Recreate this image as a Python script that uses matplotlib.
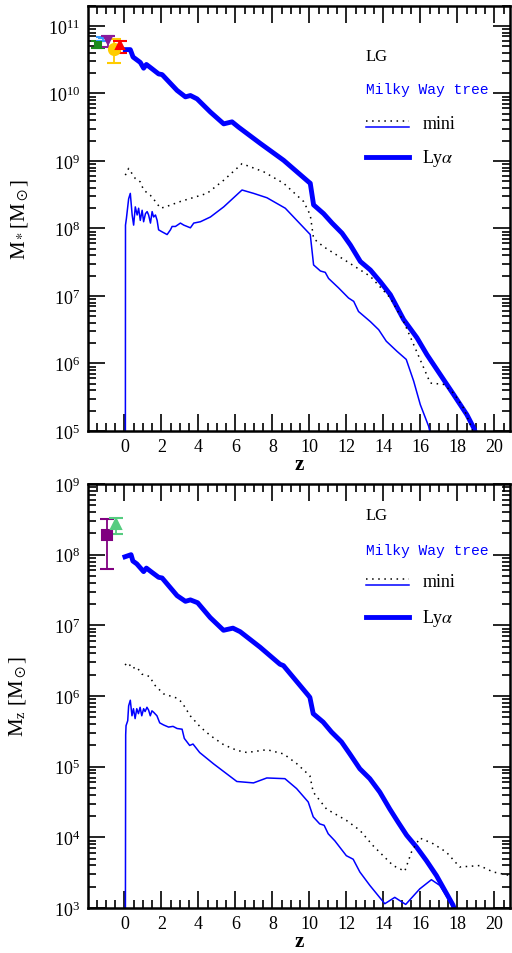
import numpy as np
import matplotlib
matplotlib.use('Agg')
from matplotlib import pyplot as plt
from matplotlib.ticker import MultipleLocator, FixedLocator, NullFormatter

plt.rcParams['font.family'] = ['Liberation Serif', 'DejaVu Serif']
plt.rcParams['mathtext.fontset'] = 'stix'

BLUE = '#0000ff'

# ---- stellar mass, log10(M*/Msun) ----
z_lya_star = [0.05, 0.32, 0.47, 0.86, 1.04, 1.19, 1.50, 1.85, 2.04, 2.85, 3.30, 3.57,
              3.93, 4.65, 5.37, 5.82, 6.18, 7.35, 8.61, 9.96, 10.05, 10.23, 10.77,
              11.23, 11.77, 12.22, 12.76, 13.30, 13.84, 14.38, 15.10, 15.82, 16.36,
              17.08, 17.80, 18.52, 18.88, 18.98]
m_lya_star = [10.65, 10.65, 10.54, 10.46, 10.375, 10.43, 10.365, 10.29, 10.28, 10.045,
              9.95, 9.97, 9.92, 9.725, 9.55, 9.58, 9.50, 9.26, 9.01, 8.69, 8.67, 8.35,
              8.22, 8.08, 7.93, 7.755, 7.51, 7.385, 7.21, 7.02, 6.65, 6.38, 6.13, 5.835,
              5.54, 5.24, 5.05, 4.98]

z_dot_star = [0.05, 0.23, 0.42, 0.59, 0.86, 1.04, 1.41, 1.68, 1.95, 2.22, 3.03, 4.47,
              5.37, 6.36, 7.53, 8.61, 9.69, 10.05, 10.23, 10.77, 12.04, 13.30, 14.38,
              15.10, 15.64, 16.54, 17.26, 17.80, 18.34, 18.70, 18.85]
m_dot_star = [8.79, 8.89, 8.81, 8.74, 8.69, 8.57, 8.49, 8.40, 8.30, 8.32, 8.40, 8.52,
              8.715, 8.96, 8.84, 8.67, 8.40, 8.20, 7.85, 7.73, 7.51, 7.29, 6.97, 6.62,
              6.28, 5.71, 5.69, 5.56, 5.34, 5.10, 4.98]

z_mini_star = [0.05, 0.06, 0.11, 0.23, 0.32, 0.42, 0.50, 0.59, 0.69, 0.77, 0.86, 0.96,
               1.04, 1.14, 1.23, 1.31, 1.41, 1.50, 1.58, 1.68, 1.77, 1.85, 2.04, 2.31,
               2.49, 2.58, 2.76, 3.03, 3.21, 3.39, 3.57, 3.75, 4.11, 4.65, 5.37, 6.36,
               6.99, 7.71, 8.70, 10.05, 10.23, 10.60, 10.86, 11.04, 11.58, 12.12,
               12.40, 12.66, 13.30, 13.75, 14.16, 14.74, 15.24, 15.64, 16.00, 16.45,
               16.55]
m_mini_star = [3.0, 8.05, 8.15, 8.44, 8.52, 8.20, 8.05, 8.32, 8.20, 8.30, 8.12, 8.27,
               8.10, 8.22, 8.25, 8.20, 8.08, 8.25, 8.17, 8.20, 8.12, 7.98, 7.95, 7.91,
               7.98, 8.03, 8.03, 8.08, 8.05, 8.03, 8.01, 8.08, 8.10, 8.17, 8.32, 8.57,
               8.52, 8.455, 8.30, 7.91, 7.46, 7.37, 7.35, 7.26, 7.12, 6.97, 6.92, 6.77,
               6.62, 6.50, 6.33, 6.18, 6.06, 5.74, 5.39, 5.07, 4.95]

# Local Group stellar mass estimates
obs_star_z = [-1.43, -1.13, -0.86, -0.55, -0.23]
obs_star_m = [5.25e10, 6.6e10, 6.3e10, 4.6e10, 5.2e10]
obs_star_lo = [4.7e10, 5.9e10, 4.9e10, 2.8e10, 4.0e10]
obs_star_hi = [5.9e10, 6.9e10, 7.2e10, 6.5e10, 5.9e10]
obs_star_col = ['#1a8a1a', '#3399ff', '#8a1a9a', '#ffcc00', '#ff0000']
obs_star_mk = ['s', '_', 'v', 'o', '^']

# ---- metal mass, log10(MZ/Msun) ----
z_lya_met = [0.03, 0.36, 0.46, 0.67, 1.04, 1.19, 1.49, 1.85, 2.04, 2.85, 3.30, 3.57,
             3.96, 4.64, 5.36, 5.87, 6.26, 7.34, 8.41, 8.60, 9.94, 10.03, 10.21, 10.75,
             11.20, 11.74, 12.19, 12.73, 13.27, 13.81, 14.35, 14.81, 15.26, 15.80,
             16.33, 16.87, 17.32, 17.77, 17.85]
m_lya_met = [7.97, 8.00, 7.91, 7.87, 7.76, 7.81, 7.75, 7.68, 7.67, 7.42, 7.34, 7.36,
             7.32, 7.11, 6.93, 6.96, 6.91, 6.69, 6.45, 6.43, 6.01, 5.98, 5.75, 5.63,
             5.49, 5.35, 5.18, 4.97, 4.83, 4.64, 4.40, 4.21, 4.03, 3.86, 3.67, 3.46,
             3.25, 3.04, 2.98]

z_dot_met = [0.03, 0.22, 0.40, 0.67, 0.94, 1.22, 1.40, 1.58, 1.85, 2.12, 2.84, 3.11,
             3.56, 4.11, 4.65, 5.37, 6.09, 6.63, 7.71, 8.61, 9.33, 10.03, 10.21, 10.93,
             12.00, 12.73, 13.45, 14.53, 15.16, 15.52, 15.97, 16.69, 17.41, 18.13,
             19.20, 19.93, 20.83]
m_dot_met = [6.44, 6.47, 6.39, 6.41, 6.31, 6.29, 6.27, 6.17, 6.10, 6.03, 5.97, 5.91,
             5.72, 5.56, 5.44, 5.31, 5.23, 5.20, 5.24, 5.18, 5.04, 4.87, 4.64, 4.40,
             4.24, 4.10, 3.88, 3.60, 3.52, 3.79, 3.99, 3.91, 3.79, 3.58, 3.60, 3.51,
             3.46]

z_mini_met = [0.05, 0.07, 0.09, 0.18, 0.23, 0.32, 0.41, 0.49, 0.58, 0.67, 0.76, 0.85,
              0.94, 1.04, 1.12, 1.22, 1.31, 1.40, 1.49, 1.58, 1.76, 1.91, 2.12, 2.39,
              2.63, 2.85, 3.12, 3.24, 3.53, 3.71, 4.07, 4.82, 6.08, 6.98, 7.70, 8.68,
              9.31, 9.94, 10.21, 10.56, 10.80, 11.02, 11.38, 12.00, 12.37, 12.73,
              13.27, 14.08, 14.62, 15.21, 15.97, 16.60, 17.05, 17.50, 17.78, 17.85]
m_mini_met = [2.0, 5.45, 5.58, 5.65, 5.86, 5.94, 5.72, 5.82, 5.68, 5.82, 5.75, 5.84,
              5.72, 5.82, 5.78, 5.84, 5.80, 5.72, 5.79, 5.77, 5.72, 5.62, 5.59, 5.56,
              5.57, 5.54, 5.53, 5.40, 5.30, 5.32, 5.20, 5.04, 4.79, 4.77, 4.84, 4.83,
              4.69, 4.50, 4.29, 4.19, 4.17, 4.05, 3.95, 3.74, 3.69, 3.51, 3.32, 3.06,
              3.15, 3.05, 3.27, 3.40, 3.32, 3.13, 3.00, 2.95]

obs_met_z = [-0.95, -0.45]
obs_met_m = [1.9e8, 2.7e8]
obs_met_lo = [6.3e7, 1.95e8]
obs_met_hi = [3.2e8, 3.3e8]
obs_met_col = ['#800080', '#55cc80']
obs_met_mk = ['s', '^']


def style_axes(ax, dec_lo, dec_hi, ytop):
    ax.set_yscale('log')
    ax.set_xlim(-1.95, 20.85)
    ax.set_ylim(10.0 ** dec_lo, ytop)
    ax.xaxis.set_major_locator(MultipleLocator(2))
    ax.xaxis.set_minor_locator(MultipleLocator(0.5))
    decades = np.arange(dec_lo, dec_hi + 1)
    ax.yaxis.set_major_locator(FixedLocator(10.0 ** decades))
    minors = [k * 10.0 ** d for d in decades for k in range(2, 10)
              if k * 10.0 ** d <= ytop]
    ax.yaxis.set_minor_locator(FixedLocator(minors))
    ax.yaxis.set_minor_formatter(NullFormatter())
    ax.tick_params(which='both', direction='in', top=True, right=True, width=1.2)
    ax.tick_params(which='major', length=12, labelsize=13, pad=6)
    ax.tick_params(which='minor', length=6)
    ax.tick_params(axis='x', which='major', pad=5)
    for s in ax.spines.values():
        s.set_linewidth(1.8)
    ax.set_xlabel('z', fontsize=15, fontweight='bold', labelpad=-1)


def legend_block(ax, y_lg, y_mw, y_mini, y_lya):
    x0, x1, xt = 0.658, 0.761, 0.792
    ax.text(x0, y_lg, 'LG', transform=ax.transAxes, fontsize=12, va='center')
    ax.text(x0, y_mw, 'Milky Way tree', transform=ax.transAxes, fontsize=10.5,
            va='center', color=BLUE, family='Liberation Mono')
    ax.plot([x0, x1], [y_mini + 0.008, y_mini + 0.008], transform=ax.transAxes,
            color='black', lw=1.1, ls=(0, (1, 3)))
    ax.plot([x0, x1], [y_mini - 0.007, y_mini - 0.007], transform=ax.transAxes,
            color=BLUE, lw=1.1)
    ax.text(xt, y_mini, 'mini', transform=ax.transAxes, fontsize=13, va='center')
    ax.plot([x0, x1], [y_lya, y_lya], transform=ax.transAxes, color=BLUE, lw=3.5)
    ax.text(xt, y_lya, r'Ly$\alpha$', transform=ax.transAxes, fontsize=13, va='center')


def draw_obs(ax, zs, ms, lo, hi, cols, mks, sizes):
    for z, m, l, h, c, mk, sz in zip(zs, ms, lo, hi, cols, mks, sizes):
        ax.errorbar(z, m, yerr=[[m - l], [h - m]], fmt=mk, color=c, ms=sz,
                    capsize=5, elinewidth=1.3, capthick=1.3, mew=1.5)


fig = plt.figure(figsize=(5.12, 9.54), dpi=100)

# stellar mass
ax1 = fig.add_axes([0.1725, 0.5472, 0.8236, 0.4458])
ax1.plot(z_lya_star, 10 ** np.array(m_lya_star), color=BLUE, lw=3.5)
ax1.plot(z_dot_star, 10 ** np.array(m_dot_star), color='black', lw=1.1, ls=(0, (1, 3)))
ax1.plot(z_mini_star, 10 ** np.array(m_mini_star), color=BLUE, lw=1.1)
draw_obs(ax1, obs_star_z, obs_star_m, obs_star_lo, obs_star_hi, obs_star_col,
         obs_star_mk, [5, 7, 6, 8, 6])
style_axes(ax1, 5, 11, 2e11)
ax1.set_ylabel(r'M$_*$[M$_\odot$]', fontsize=15, labelpad=12)
legend_block(ax1, 0.882, 0.804, 0.722, 0.644)

# metal mass
ax2 = fig.add_axes([0.1725, 0.0472, 0.8236, 0.4444])
ax2.plot(z_lya_met, 10 ** np.array(m_lya_met), color=BLUE, lw=3.5)
ax2.plot(z_dot_met, 10 ** np.array(m_dot_met), color='black', lw=1.1, ls=(0, (1, 3)))
ax2.plot(z_mini_met, 10 ** np.array(m_mini_met), color=BLUE, lw=1.1)
draw_obs(ax2, obs_met_z, obs_met_m, obs_met_lo, obs_met_hi, obs_met_col,
         obs_met_mk, [7, 7])
style_axes(ax2, 3, 9, 1e9)
ax2.set_ylabel(r'M$_\mathregular{z}$ [M$_\odot$]', fontsize=15, labelpad=18)
legend_block(ax2, 0.927, 0.844, 0.769, 0.686)

fig.savefig('out.png', dpi=100)
